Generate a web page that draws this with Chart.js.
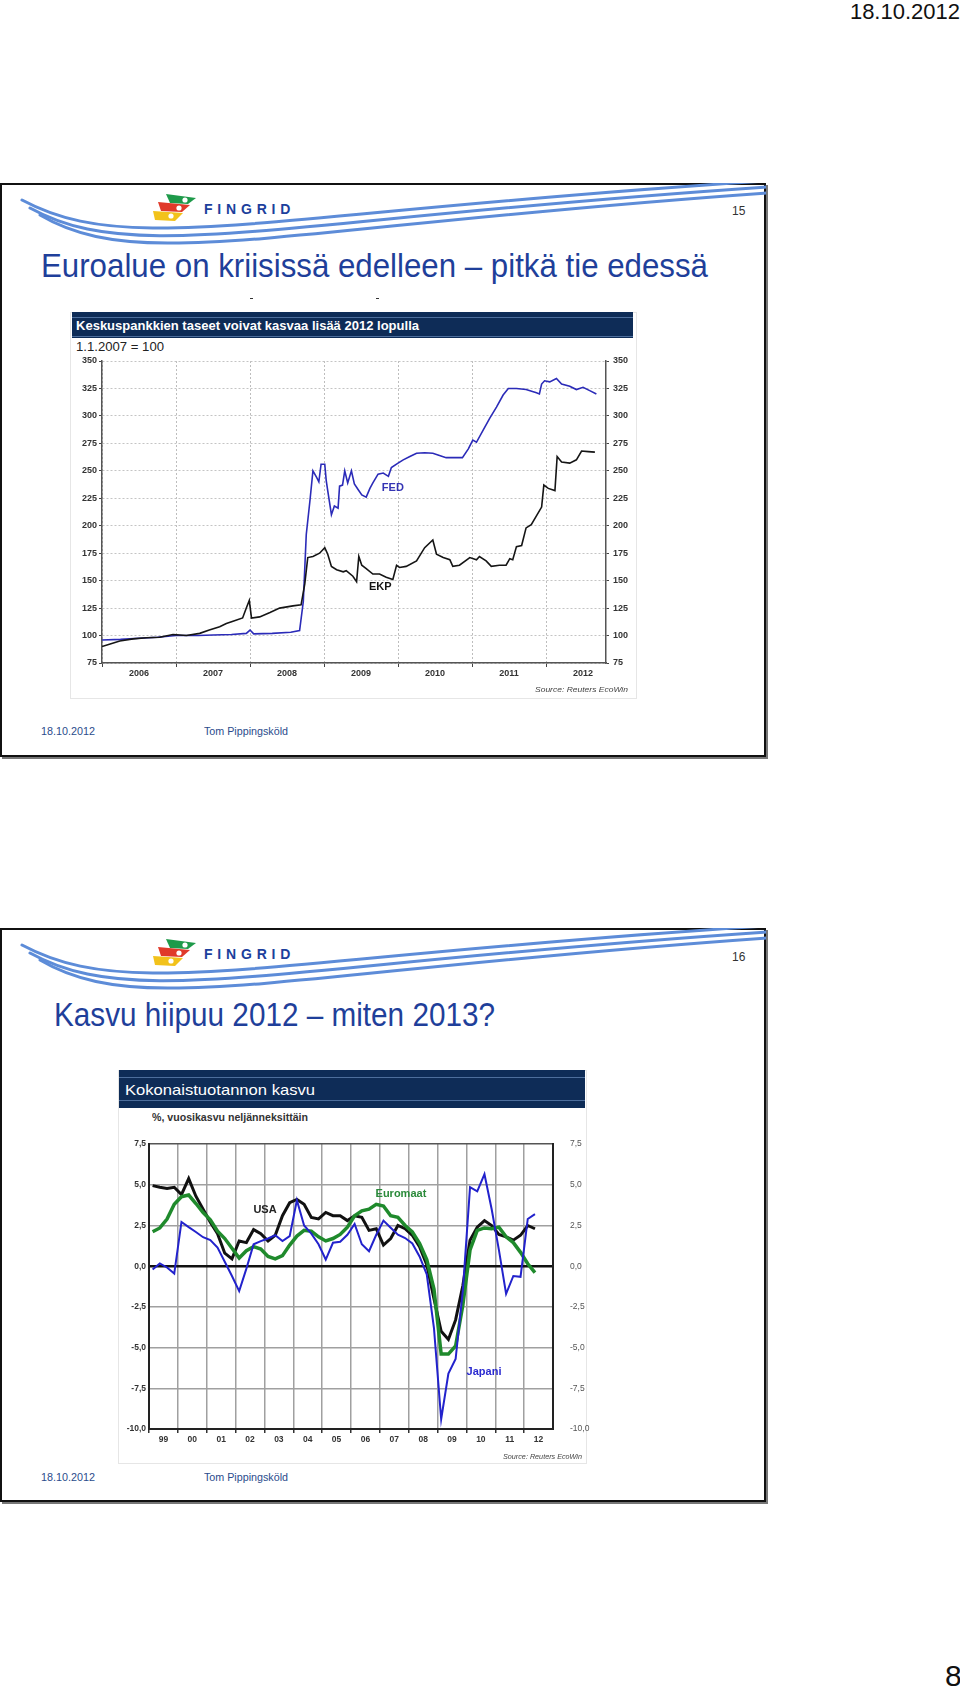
<!doctype html>
<html>
<head>
<meta charset="utf-8">
<title>Fingrid 15-16</title>
<script src="https://cdn.jsdelivr.net/npm/chart.js@4.4.1/dist/chart.umd.min.js"></script>
<style>
body { margin: 0; background: #fff; font-family: "Liberation Sans", Arial, sans-serif; }
#page { position: relative; width: 960px; height: 1687px; overflow: hidden; }
.abs { position: absolute; white-space: nowrap; }
.fit { display: inline-block; transform-origin: 0 50%; }
.slide { position: absolute; left: 0; width: 762px; height: 570px; border: 2px solid #111; box-shadow: 2px 2px 0 #777; }
.logo-text { font-weight: bold; font-size: 14px; line-height: 14px; letter-spacing: 4.8px; color: #1c3f9c; }
.num { font-size: 12px; line-height: 12px; color: #333; }
.title { font-size: 34px; line-height: 34px; color: #1f3f9a; }
.foot { font-size: 11px; line-height: 11px; color: #2b4c8c; }
.panel { position: absolute; border: 1px solid #e6e6e6; background: #fff; }
.bar { position: absolute; background: #0e2c57; }
.bar .ln { position: absolute; left: 0; right: 0; height: 1px; background: #4d6e9c; }
.bar-text { color: #fff; font-weight: bold; }
.source { font-style: italic; color: #444; }
.wrap { position: absolute; }
</style>
</head>
<body>
<div id="page">

<div class="abs" style="right:0;top:0;font-size:22px;line-height:23px;color:#111">18.10.2012</div>
<div class="abs" style="left:945px;top:1661px;font-size:30px;line-height:30px;color:#111">8</div>

<!-- slide 15 -->
<div class="slide" style="top:183px"></div>
<svg class="abs" style="left:0;top:183px" width="766" height="80">
  <g fill="none" stroke="#5d8cd8" stroke-width="3" stroke-linecap="round">
    <path d="M22 17 C130 75, 260 30, 766 -2"/>
    <path d="M30 25 C135 83, 270 37, 766 4"/>
    <path d="M40 32 C140 91, 280 44, 766 10"/>
  </g>
  <g transform="translate(152,10)">
    <polygon points="14,1 44,5 36,11 18,10" fill="#1e9a4a"/>
    <polygon points="6,9 38,12 30,19 9,18" fill="#e03a2a"/>
    <polygon points="1,18 31,20 23,28 3,27" fill="#f2c21b"/>
    <circle cx="33" cy="7" r="2.6" fill="#fff"/>
    <circle cx="27" cy="15" r="2.6" fill="#fff"/>
    <circle cx="19" cy="23" r="2.6" fill="#fff"/>
  </g>
</svg>
<div class="abs logo-text" style="left:204px;top:202px">FINGRID</div>
<div class="abs num" style="left:732px;top:205px">15</div>
<div class="abs title" style="left:41px;top:248px"><span class="fit" data-fit="667">Euroalue on kriisissä edelleen – pitkä tie edessä</span></div>
<div class="abs" style="left:250px;top:298px;width:3px;height:1px;background:#333"></div>
<div class="abs" style="left:376px;top:298px;width:3px;height:1px;background:#333"></div>

<div class="panel" style="left:70px;top:312px;width:565px;height:385px"></div>
<div class="bar" style="left:72px;top:312px;width:561px;height:26px">
  <div class="ln" style="top:5px"></div>
  <div class="ln" style="top:24px"></div>
</div>
<div class="abs bar-text" style="left:76px;top:319px;font-size:13px;line-height:14px"><span class="fit" data-fit="343">Keskuspankkien taseet voivat kasvaa lisää 2012 lopulla</span></div>
<div class="abs" style="left:76px;top:341px;font-size:12px;line-height:12px;color:#222"><span class="fit" data-fit="88">1.1.2007 = 100</span></div>
<div class="wrap" style="left:70px;top:340px;width:570px;height:357px"><canvas id="chart1"></canvas></div>
<div class="abs source" style="left:535px;top:686px;font-size:8px;line-height:8px"><span class="fit" data-fit="93">Source: Reuters EcoWin</span></div>

<div class="abs foot" style="left:41px;top:726px"><span class="fit" data-fit="54">18.10.2012</span></div>
<div class="abs foot" style="left:204px;top:726px"><span class="fit" data-fit="84">Tom Pippingsköld</span></div>

<!-- slide 16 -->
<div class="slide" style="top:928px"></div>
<svg class="abs" style="left:0;top:928px" width="766" height="80">
  <g fill="none" stroke="#5d8cd8" stroke-width="3" stroke-linecap="round">
    <path d="M22 17 C130 75, 260 30, 766 -2"/>
    <path d="M30 25 C135 83, 270 37, 766 4"/>
    <path d="M40 32 C140 91, 280 44, 766 10"/>
  </g>
  <g transform="translate(152,10)">
    <polygon points="14,1 44,5 36,11 18,10" fill="#1e9a4a"/>
    <polygon points="6,9 38,12 30,19 9,18" fill="#e03a2a"/>
    <polygon points="1,18 31,20 23,28 3,27" fill="#f2c21b"/>
    <circle cx="33" cy="7" r="2.6" fill="#fff"/>
    <circle cx="27" cy="15" r="2.6" fill="#fff"/>
    <circle cx="19" cy="23" r="2.6" fill="#fff"/>
  </g>
</svg>
<div class="abs logo-text" style="left:204px;top:947px">FINGRID</div>
<div class="abs num" style="left:732px;top:951px">16</div>
<div class="abs title" style="left:54px;top:997px"><span class="fit" data-fit="441">Kasvu hiipuu 2012 – miten 2013?</span></div>

<div class="panel" style="left:118px;top:1070px;width:467px;height:392px"></div>
<div class="bar" style="left:119px;top:1070px;width:466px;height:38px">
  <div class="ln" style="top:7px"></div>
  <div class="ln" style="top:30px"></div>
</div>
<div class="abs bar-text" style="left:125px;top:1082px;font-size:15px;line-height:16px;font-weight:normal"><span class="fit" data-fit="190">Kokonaistuotannon kasvu</span></div>
<div class="abs" style="left:152px;top:1113px;font-size:10px;line-height:10px;font-weight:bold;color:#333"><span class="fit" data-fit="156">%, vuosikasvu neljänneksittäin</span></div>
<div class="wrap" style="left:118px;top:1122px;width:482px;height:340px"><canvas id="chart2"></canvas></div>
<div class="abs source" style="left:503px;top:1453px;font-size:7.5px;line-height:8px"><span class="fit" data-fit="79">Source: Reuters EcoWin</span></div>

<div class="abs foot" style="left:41px;top:1472px"><span class="fit" data-fit="54">18.10.2012</span></div>
<div class="abs foot" style="left:204px;top:1472px"><span class="fit" data-fit="84">Tom Pippingsköld</span></div>

</div>

<script>
// --- chart 1: central bank balance sheets, 1.1.2007 = 100 ---
var fedYears = [2006.00, 2006.25, 2006.50, 2006.75, 2007.00, 2007.30, 2007.50, 2007.75, 2007.95, 2008.00,
  2008.05, 2008.30, 2008.55, 2008.67, 2008.72, 2008.76, 2008.81, 2008.85, 2008.90, 2008.93,
  2008.96, 2009.01, 2009.03, 2009.05, 2009.10, 2009.14, 2009.19, 2009.21, 2009.25, 2009.28,
  2009.32, 2009.37, 2009.41, 2009.46, 2009.51, 2009.57, 2009.62, 2009.66, 2009.73, 2009.80,
  2009.87, 2009.91, 2010.00, 2010.07, 2010.16, 2010.25, 2010.36, 2010.47, 2010.56, 2010.65,
  2010.77, 2010.87, 2010.95, 2011.01, 2011.06, 2011.15, 2011.24, 2011.33, 2011.42, 2011.49,
  2011.60, 2011.73, 2011.87, 2011.91, 2011.94, 2011.98, 2012.05, 2012.14, 2012.21, 2012.32,
  2012.41, 2012.50, 2012.59, 2012.68];
var fedValues = [96, 96.5, 97.5, 98.5, 100, 100, 100.5, 101, 102, 105,
  101.5, 102, 103, 104.5, 131, 192, 223, 250, 244, 240,
  256, 256, 241, 232, 210, 218, 216, 236, 237, 250,
  239, 250, 238, 233, 228, 226, 234, 239, 247, 248,
  245, 253, 257, 260, 263, 266, 266.5, 266, 264, 262,
  262, 262, 270, 278, 276, 287, 298, 308, 319, 325,
  325, 324, 321, 320, 329, 332, 331, 334, 329, 327,
  324, 326, 323, 320];

var ekpYears = [2006.00, 2006.10, 2006.24, 2006.42, 2006.60, 2006.78, 2006.96, 2007.14, 2007.32, 2007.45,
  2007.59, 2007.68, 2007.77, 2007.90, 2007.95, 2007.99, 2008.02, 2008.13, 2008.27, 2008.40,
  2008.58, 2008.69, 2008.74, 2008.78, 2008.85, 2008.94, 2009.01, 2009.05, 2009.10, 2009.17,
  2009.26, 2009.30, 2009.39, 2009.44, 2009.47, 2009.51, 2009.57, 2009.66, 2009.75, 2009.84,
  2009.93, 2009.98, 2010.02, 2010.11, 2010.25, 2010.36, 2010.47, 2010.52, 2010.61, 2010.70,
  2010.74, 2010.83, 2010.97, 2011.06, 2011.10, 2011.19, 2011.26, 2011.37, 2011.46, 2011.51,
  2011.55, 2011.60, 2011.67, 2011.73, 2011.80, 2011.87, 2011.94, 2011.97, 2012.03, 2012.12,
  2012.15, 2012.21, 2012.32, 2012.41, 2012.48, 2012.57, 2012.66];
var ekpValues = [90, 92, 95, 97, 98, 98.5, 101, 100, 102, 105,
  108, 111, 113, 116, 125, 132, 116, 117, 121, 125,
  127, 128, 147, 171, 172, 175, 180, 174, 163, 160,
  158, 159, 154, 149, 172, 164, 161, 156, 156, 153,
  151, 164, 162, 163, 168, 180, 187, 174, 171, 169,
  163, 164, 171, 169, 172, 168, 163, 164, 164, 170,
  169, 181, 182, 198, 201, 209, 217, 237, 234, 232,
  263, 258, 257, 260, 268, 267.5, 267];

var years1 = [2006, 2007, 2008, 2009, 2010, 2011, 2012];
var yearLabels1 = ['2006', '2007', '2008', '2009', '2010', '2011', '2012'];

// --- chart 2: GDP growth, % y/y by quarter, 1999Q1 - 2012Q2 ---
var years2 = [1999, 2000, 2001, 2002, 2003, 2004, 2005, 2006, 2007, 2008, 2009, 2010, 2011, 2012];
var yearLabels2 = ['99', '00', '01', '02', '03', '04', '05', '06', '07', '08', '09', '10', '11', '12'];

var usaGdp = [4.95, 4.85, 4.78, 4.85, 4.4, 5.38, 4.3, 3.5, 2.7, 2.0,
  0.8, 0.45, 1.55, 1.45, 2.25, 2.0, 1.55, 1.9, 3.1, 3.9,
  4.1, 3.8, 3.0, 2.9, 3.3, 3.1, 3.1, 2.8, 3.1, 3.0,
  2.2, 2.3, 1.3, 1.7, 2.5, 2.3, 1.9, 1.2, 0.1, -2.0,
  -4.0, -4.5, -3.3, -1.2, 1.6, 2.4, 2.8, 2.5, 1.95, 1.8,
  1.6, 1.9, 2.5, 2.3];
var euroGdp = [2.12, 2.35, 2.9, 3.8, 4.27, 4.37, 3.85, 3.3, 2.85, 2.15,
  1.7, 1.1, 0.5, 0.95, 1.2, 1.05, 0.6, 0.45, 0.65, 1.3,
  1.85, 2.2, 2.15, 1.8, 1.55, 1.7, 1.95, 2.4, 3.1, 3.4,
  3.5, 3.8, 3.7, 3.1, 3.0, 2.5, 2.1, 1.4, 0.4, -1.4,
  -5.4, -5.4, -4.9, -2.4, 1.0, 2.2, 2.35, 2.3, 2.4, 1.8,
  1.45, 0.85, 0.15, -0.4];
var japanGdp = [-0.2, 0.17, -0.08, -0.45, 2.72, 2.4, 2.1, 1.78, 1.6, 1.15,
  0.27, -0.6, -1.53, -0.15, 1.35, 1.54, 1.7, 1.9, 1.55, 1.85,
  4.05, 2.5, 2.0, 1.35, 0.41, 1.44, 1.5, 1.93, 2.6, 1.35,
  0.92, 1.93, 2.8, 2.36, 1.93, 1.73, 1.4, 0.6, -0.5, -3.8,
  -9.4, -6.6, -5.7, -1.5, 4.85, 4.6, 5.65, 3.5, 1.0, -1.7,
  -0.6, -0.65, 2.9, 3.2];

// quarter names and their position on the year axis (mid-quarter)
var quarters = [];
var quarterPos = [];
for (var yr = 1999; yr <= 2012; yr++) {
  for (var q = 1; q <= 4; q++) {
    if (quarters.length < usaGdp.length) {
      quarters.push(yr + 'Q' + q);
      quarterPos.push(yr + (q - 0.5) / 4);
    }
  }
}

function pairs(xs, ys) {
  return ys.map(function (v, i) { return { x: xs[i], y: v }; });
}

// text labels on the plot
var textLabels = {
  id: 'textLabels',
  afterDatasetsDraw: function (chart, args, opts) {
    var ctx = chart.ctx, xs = chart.scales.x, ys = chart.scales.y;
    (opts.items || []).forEach(function (it) {
      ctx.save();
      ctx.font = it.font;
      ctx.fillStyle = it.color;
      ctx.textAlign = 'center';
      ctx.textBaseline = 'middle';
      ctx.fillText(it.text, xs.getPixelForValue(it.x), ys.getPixelForValue(it.y));
      ctx.restore();
    });
  }
};

// gridline ticks at year starts, label ticks at mid-year
function yearTicks(years) {
  return function (axis) {
    var t = [];
    years.forEach(function (y) { t.push({ value: y }); t.push({ value: y + 0.5 }); });
    axis.ticks = t.filter(function (k) { return k.value >= axis.min && k.value <= axis.max; });
  };
}
function isYear(ctx) { return ctx.tick && Number.isInteger(ctx.tick.value); }
function fixWidth(w) { return function (s) { s.width = w; }; }
function fixHeight(h) { return function (s) { s.height = h; }; }

Chart.defaults.font.family = '"Liberation Sans", Arial, sans-serif';

new Chart(document.getElementById('chart1'), {
  type: 'line',
  data: {
    datasets: [
      { label: 'EKP', data: pairs(ekpYears, ekpValues), borderColor: '#151515', borderWidth: 1.6, pointRadius: 0, tension: 0 },
      { label: 'FED', data: pairs(fedYears, fedValues), borderColor: '#2b2bb8', borderWidth: 1.6, pointRadius: 0, tension: 0 }
    ]
  },
  options: {
    responsive: true, maintainAspectRatio: false, animation: false,
    layout: { padding: { top: 21, left: 0, right: 0, bottom: 0 } },
    plugins: {
      legend: { display: false }, tooltip: { enabled: false },
      textLabels: { items: [
        { text: 'FED', x: 2009.93, y: 234, color: '#3434b4', font: 'bold 11px "Liberation Sans", Arial' },
        { text: 'EKP', x: 2009.76, y: 144, color: '#151515', font: 'bold 11px "Liberation Sans", Arial' }
      ] }
    },
    scales: {
      x: {
        type: 'linear', min: 2006, max: 2012.81,
        afterBuildTicks: yearTicks(years1),
        afterFit: fixHeight(34),
        grid: {
          color: function (c) { return isYear(c) ? '#bdbdbd' : 'rgba(0,0,0,0)'; },
          tickColor: function (c) { return isYear(c) ? '#444' : 'rgba(0,0,0,0)'; },
          tickLength: 4
        },
        border: { color: '#555', width: 1.5, dash: [2, 2] },
        ticks: {
          autoSkip: false, maxRotation: 0, padding: 1, color: '#333',
          font: { size: 9, weight: 'bold' },
          callback: function (v) { return Number.isInteger(v) ? '' : yearLabels1[years1.indexOf(Math.floor(v))]; }
        }
      },
      y: {
        position: 'left', min: 75, max: 350,
        afterFit: fixWidth(32),
        grid: { color: '#c4c4c4', tickColor: '#444', tickLength: 3 },
        border: { color: '#555', width: 1.5, dash: [2, 2] },
        ticks: { stepSize: 25, padding: 2, color: '#333', font: { size: 9, weight: 'bold' } }
      },
      y2: {
        position: 'right', min: 75, max: 350,
        afterFit: fixWidth(34),
        grid: { drawOnChartArea: false, tickColor: '#444', tickLength: 3 },
        border: { color: '#555', width: 1.5 },
        ticks: { stepSize: 25, padding: 4, color: '#333', font: { size: 9, weight: 'bold' } }
      }
    }
  },
  plugins: [textLabels]
});

function commaFmt(v) { return v.toFixed(1).replace('.', ','); }

new Chart(document.getElementById('chart2'), {
  type: 'line',
  data: {
    datasets: [
      { label: 'Japani', data: pairs(quarterPos, japanGdp), borderColor: '#2222cc', borderWidth: 2, pointRadius: 0, tension: 0 },
      { label: 'Euromaat', data: pairs(quarterPos, euroGdp), borderColor: '#1f8a2c', borderWidth: 3.5, pointRadius: 0, tension: 0 },
      { label: 'USA', data: pairs(quarterPos, usaGdp), borderColor: '#111', borderWidth: 3, pointRadius: 0, tension: 0 }
    ]
  },
  options: {
    responsive: true, maintainAspectRatio: false, animation: false,
    layout: { padding: { top: 8, left: 0, right: 0, bottom: 0 } },
    plugins: {
      legend: { display: false }, tooltip: { enabled: false },
      textLabels: { items: [
        { text: 'USA', x: 2003.02, y: 3.45, color: '#222', font: 'bold 11px "Liberation Sans", Arial' },
        { text: 'Euromaat', x: 2007.73, y: 4.44, color: '#2a8a3a', font: 'bold 11px "Liberation Sans", Arial' },
        { text: 'Japani', x: 2010.61, y: -6.5, color: '#2a2ad0', font: 'bold 11px "Liberation Sans", Arial' }
      ] }
    },
    scales: {
      x: {
        type: 'linear', min: 1999, max: 2013,
        afterBuildTicks: yearTicks(years2),
        afterFit: fixHeight(33),
        grid: {
          color: function (c) { return isYear(c) ? '#a0a0a0' : 'rgba(0,0,0,0)'; },
          tickColor: function (c) { return isYear(c) ? '#333' : 'rgba(0,0,0,0)'; },
          lineWidth: 1.5, tickLength: 4
        },
        border: { color: '#222', width: 2 },
        ticks: {
          autoSkip: false, maxRotation: 0, padding: 2, color: '#333',
          font: { size: 8.5, weight: 'bold' },
          callback: function (v) { return Number.isInteger(v) ? '' : yearLabels2[years2.indexOf(Math.floor(v))]; }
        }
      },
      y: {
        position: 'left', min: -10, max: 7.5,
        afterFit: fixWidth(31),
        grid: {
          color: function (c) { return c.tick && c.tick.value === 0 ? '#111' : (c.tick && c.tick.value === 7.5 ? '#555' : '#a0a0a0'); },
          lineWidth: function (c) { return c.tick && c.tick.value === 0 ? 2.5 : 1.5; },
          drawTicks: false
        },
        border: { color: '#222', width: 2 },
        ticks: { stepSize: 2.5, padding: 3, color: '#333', font: { size: 8.5, weight: 'bold' }, callback: commaFmt }
      },
      y2: {
        position: 'right', min: -10, max: 7.5,
        afterFit: fixWidth(47),
        grid: { drawOnChartArea: false, drawTicks: false },
        border: { color: '#222', width: 2 },
        ticks: { stepSize: 2.5, padding: 17, color: '#555', font: { size: 8.5 }, callback: commaFmt }
      }
    }
  },
  plugins: [textLabels]
});

// squeeze narrow slide texts to the widths in the original
document.querySelectorAll('[data-fit]').forEach(function (el) {
  var target = parseFloat(el.getAttribute('data-fit'));
  var w = el.getBoundingClientRect().width;
  if (w > 0) el.style.transform = 'scaleX(' + (target / w) + ')';
});
</script>
</body>
</html>
